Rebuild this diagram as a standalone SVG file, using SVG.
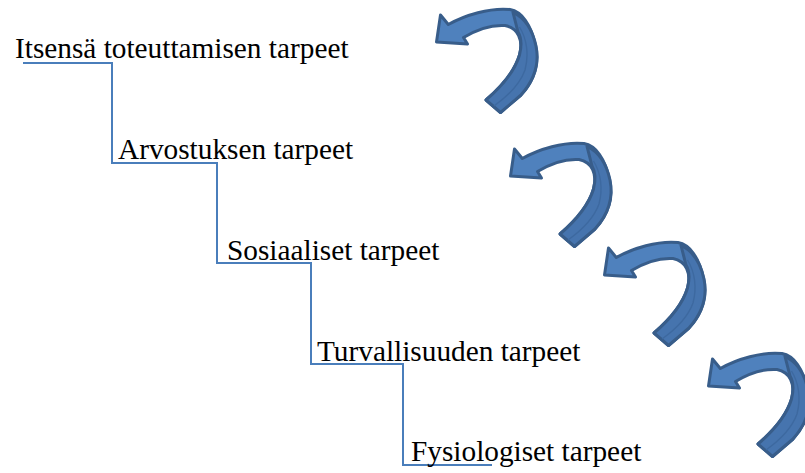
<svg xmlns="http://www.w3.org/2000/svg" xmlns:xlink="http://www.w3.org/1999/xlink" width="805" height="473" viewBox="0 0 805 473">
  <style>
    .label { font-family: "Liberation Serif", "Times New Roman", serif; font-size: 29.3px; fill: #000; }
    .step { fill: none; stroke: #4A7EBB; stroke-width: 2; stroke-linejoin: miter; }
    .arrow-front { fill: #4F81BD; stroke: #385D8A; stroke-width: 3; stroke-linejoin: round; }
    .arrow-back { fill: #4674AE; stroke: #385D8A; stroke-width: 3; stroke-linejoin: round; }
    .arrow-crease { fill: none; stroke: #3D69A0; stroke-width: 1.4; }
  </style>
  <defs>
    <!-- curled arrow pointing back to the left, with the ribbon twisting at its top -->
    <g id="curl">
      <path class="arrow-front" d="M436.5,42 L440.5,15 L448.3,24.5 C465,15 490,7.5 510,9.5 C522,11.5 531,25 535.5,45 C539.5,62 535,80 521,95 L500.5,112.5 L486,100 C500,88 514.5,72 519.5,55 C523.5,40 518,28 505,25.5 C490,24.5 475,30.5 463.5,37.5 L467.5,44 Z"/>
      <path class="arrow-back" d="M513,12.5 C525,18 532.5,30 536,46 C539.5,63 534.5,80 521,95 L500.5,112.5 L486,100 C500,88 514.5,72 519.5,55 C522.5,43 521,37 518,32 Z"/>
      <path class="arrow-crease" d="M519.5,27 C527,39 529,55 525,70 C520,84 508,96 494,106"/>
    </g>
  </defs>

  <!-- staircase connectors -->
  <g id="connectors">
    <polyline class="step" points="23,63 112,63 112,163 217,163 217,263 311,263 311,364 403,364 403,465 492,465"/>
  </g>

  <g id="node-itsensa">
    <text class="label" x="15" y="57.5">Itsensä toteuttamisen tarpeet</text>
  </g>
  <g id="node-arvostus">
    <text class="label" x="118" y="158.5">Arvostuksen tarpeet</text>
  </g>
  <g id="node-sosiaaliset">
    <text class="label" x="227" y="260">Sosiaaliset tarpeet</text>
  </g>
  <g id="node-turvallisuus">
    <text class="label" x="317" y="360.5">Turvallisuuden tarpeet</text>
  </g>
  <g id="node-fysiologiset">
    <text class="label" x="411" y="461">Fysiologiset tarpeet</text>
  </g>

  <!-- curled arrows beside the steps -->
  <g id="arrow-1"><use xlink:href="#curl"/></g>
  <g id="arrow-2"><use xlink:href="#curl" transform="translate(74,134)"/></g>
  <g id="arrow-3"><use xlink:href="#curl" transform="translate(168,233)"/></g>
  <g id="arrow-4"><use xlink:href="#curl" transform="translate(272,344)"/></g>
</svg>
